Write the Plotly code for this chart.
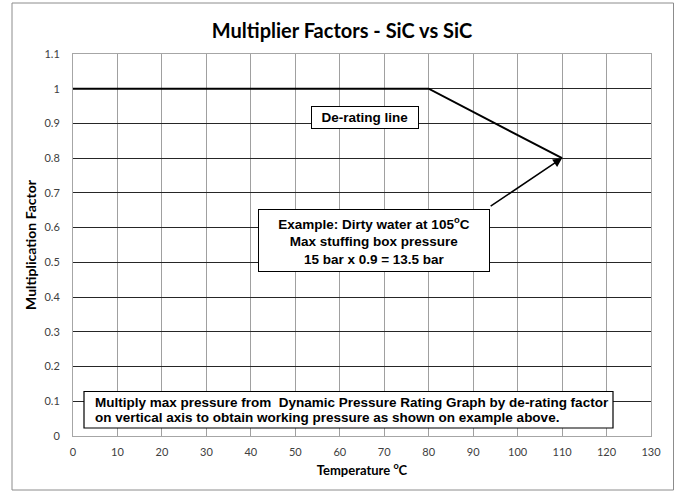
import plotly.graph_objects as go

# Data
temperature = [0, 80, 110]
factor = [1.0, 1.0, 0.8]

x_ticks = list(range(0, 131, 10))
y_ticks = [0, 0.1, 0.2, 0.3, 0.4, 0.5, 0.6, 0.7, 0.8, 0.9, 1.0, 1.1]
y_tick_labels = ["0", "0.1", "0.2", "0.3", "0.4", "0.5", "0.6", "0.7", "0.8", "0.9", "1", "1.1"]

title_text = "Multiplier Factors - SiC vs SiC"
x_title = "Temperature <sup>o</sup>C"
y_title = "Multiplication Factor"

derating_label = "De-rating line"
example_lines = ["Example: Dirty water at 105<sup>o</sup>C",
                 "Max stuffing box pressure",
                 "15 bar x 0.9 = 13.5 bar"]
example_point = (110, 0.8)
example_tail = (93.6, 0.659)
note_lines = ["Multiply max pressure from  Dynamic Pressure Rating Graph by de-rating factor",
              "on vertical axis to obtain working pressure as shown on example above."]

TITLE_FONT = "Lato"
BOX_FONT = "Liberation Sans"

W, H = 675, 492
L, R, T, B = 73, 24, 54, 56
PW, PH = W - L - R, H - T - B


def px(xp):
    return (xp - L) / PW


def py(yp):
    return (H - B - yp) / PH


fig = go.Figure()
fig.add_trace(go.Scatter(
    x=temperature, y=factor, mode="lines",
    line=dict(color="black", width=2), showlegend=False, hoverinfo="skip"))

fig.update_layout(
    width=W, height=H,
    margin=dict(l=L, r=R, t=T, b=B),
    paper_bgcolor="white", plot_bgcolor="white",
    title=dict(text="<b>" + title_text + "</b>", x=342 / W, xanchor="center",
               y=1 - 31 / H, yanchor="middle",
               font=dict(family=TITLE_FONT, size=20, color="black")),
    xaxis=dict(range=[0, 130], tickvals=x_ticks, showgrid=True,
               gridcolor="#a0a0a0", gridwidth=1, zeroline=False,
               showline=True, linecolor="#a6a6a6", linewidth=1, mirror=True,
               ticks="", ticklabelstandoff=6,
               tickfont=dict(family=TITLE_FONT, size=11, color="#404040"),
               title=dict(text="<b>" + x_title + "</b>", standoff=8,
                          font=dict(family=TITLE_FONT, size=13, color="black"))),
    yaxis=dict(range=[0, 1.1], tickvals=y_ticks, ticktext=y_tick_labels,
               showgrid=True, gridcolor="#262626", gridwidth=1, zeroline=False,
               showline=True, linecolor="#a6a6a6", linewidth=1, mirror=True,
               ticks="", ticklabelstandoff=10,
               tickfont=dict(family=TITLE_FONT, size=11, color="#404040"),
               title=dict(text="<b>" + y_title + "</b>", standoff=4,
                          font=dict(family=TITLE_FONT, size=14, color="black"))),
)

# Outer chart frame
fig.add_shape(type="rect", xref="paper", yref="paper",
              x0=px(12), x1=px(673.5), y0=py(490), y1=py(3),
              line=dict(color="#8c8c8c", width=1), fillcolor="rgba(0,0,0,0)",
              layer="below")

box_font = dict(family=BOX_FONT, size=13.5, color="black")

# De-rating line label
fig.add_annotation(xref="paper", yref="paper",
                   x=px((312 + 418) / 2), y=py(117), xanchor="center", yanchor="middle",
                   text="<b>" + derating_label + "</b>", showarrow=False,
                   font=box_font, bgcolor="white", bordercolor="black", borderwidth=1,
                   borderpad=3, width=100)

# Example box
fig.add_annotation(xref="paper", yref="paper",
                   x=px((259 + 489) / 2), y=py(240), xanchor="center", yanchor="middle",
                   text="<b>" + "<br>".join(example_lines) + "</b>", showarrow=False,
                   font=box_font, bgcolor="white", bordercolor="black", borderwidth=1,
                   borderpad=4, width=222, align="center")

# Arrow
fig.add_annotation(x=example_point[0], y=example_point[1], xref="x", yref="y",
                   ax=example_tail[0], ay=example_tail[1], axref="x", ayref="y",
                   text="", showarrow=True, arrowhead=2, arrowsize=1.2,
                   arrowwidth=1.5, arrowcolor="black")

# Note box at bottom
fig.add_shape(type="rect", xref="paper", yref="paper",
              x0=px(84), x1=px(613), y0=py(428), y1=py(391.5),
              line=dict(color="black", width=1.2), fillcolor="white", layer="above")
for i, line in enumerate(note_lines):
    fig.add_annotation(xref="paper", yref="paper",
                       x=px(93), y=py(402.5 + 14.5 * i), xanchor="left", yanchor="middle",
                       text="<b>" + line + "</b>", showarrow=False,
                       font=box_font, align="left")

fig.write_html("out.html", config={"displayModeBar": False},
               post_script="document.body.style.margin='0px';")
